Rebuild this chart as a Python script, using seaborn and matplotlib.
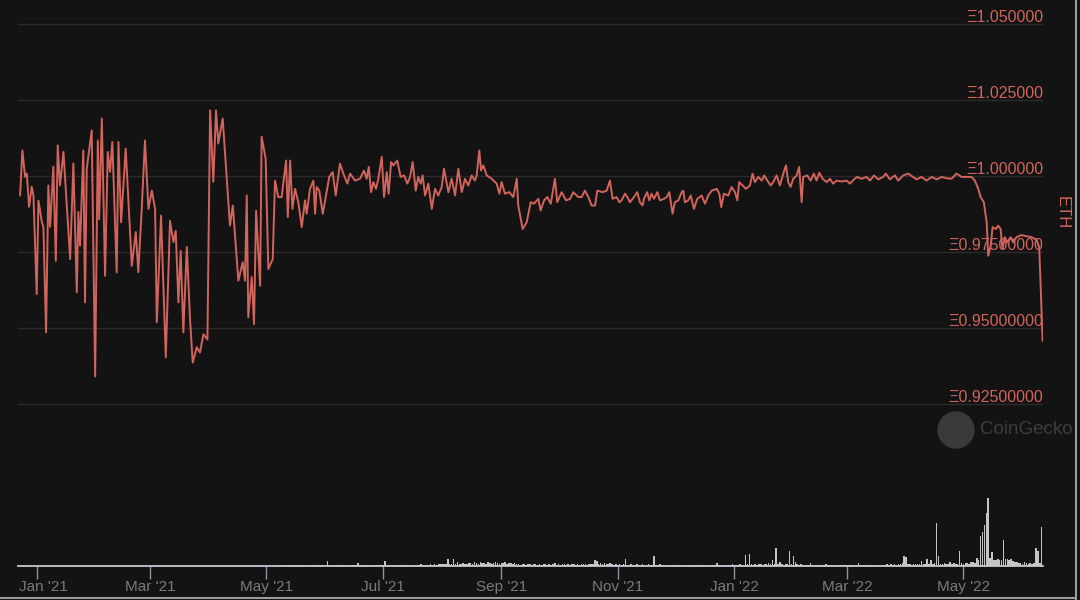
import matplotlib
matplotlib.use('Agg')
import matplotlib.pyplot as plt
from matplotlib.patches import Circle
from matplotlib.lines import Line2D
from matplotlib.transforms import IdentityTransform, ScaledTranslation
import pandas as pd
import seaborn as sns

# price trace (days since 2021-01-01, price in ETH)
day = [
    -9.0, -7.8, -6.4, -5.5, -4.3, -2.9, -2.0, -0.3, 0.6, 2.4,
    3.2, 4.6, 5.8, 6.7, 8.4, 9.7, 10.7, 11.9, 13.7, 17.2,
    18.9, 20.7, 21.5, 22.4, 24.1, 25.0, 25.9, 28.5, 30.3, 31.7,
    32.4, 33.8, 35.5, 36.9, 38.1, 39.3, 41.6, 42.5, 43.9, 46.3,
    49.5, 51.6, 52.9, 54.7, 56.4, 58.2, 60.0, 61.7, 62.6, 64.8,
    67.3, 69.5, 71.3, 72.5, 73.9, 75.1, 76.5, 78.3, 80.0, 81.4,
    83.5, 85.2, 87.0, 89.1, 90.5, 92.2, 93.6, 94.8, 97.1, 100.9,
    102.4, 105.3, 107.6, 108.8, 109.7, 110.5, 112.3, 113.5, 114.6, 116.7,
    117.5, 119.6, 121.0, 123.3, 124.5, 126.2, 128.0, 128.9, 130.3, 131.2,
    132.4, 133.6, 135.0, 136.7, 138.5, 140.2, 141.1, 142.8, 144.6, 145.5,
    146.3, 147.7, 149.5, 151.2, 152.9, 154.7, 156.3, 158.5, 160.3, 162.4,
    163.8, 166.4, 169.0, 171.1, 172.5, 173.6, 174.8, 176.0, 177.4, 178.6,
    180.4, 181.6, 183.0, 184.0, 185.3, 186.5, 188.5, 190.3, 192.1, 193.8,
    195.2, 196.6, 198.2, 199.5, 200.8, 201.8, 203.1, 204.8, 206.6, 208.3,
    210.0, 211.8, 213.0, 215.3, 217.0, 218.8, 220.5, 222.3, 224.0, 225.7,
    227.5, 229.2, 230.1, 231.5, 232.4, 233.6, 235.4, 238.0, 240.6, 242.0,
    243.2, 244.9, 247.2, 249.3, 251.1, 251.9, 254.2, 256.3, 258.4, 260.1,
    262.4, 263.6, 265.4, 267.1, 268.9, 271.1, 272.3, 274.6, 276.9, 279.0,
    280.7, 283.3, 285.1, 286.8, 288.6, 290.3, 292.1, 293.3, 296.1, 298.2,
    299.9, 301.3, 303.4, 304.8, 306.0, 307.8, 309.0, 310.4, 312.5, 314.2,
    315.6, 317.0, 317.7, 319.4, 320.5, 321.7, 323.0, 324.7, 326.1, 328.2,
    329.6, 331.0, 332.7, 333.9, 335.7, 337.5, 338.3, 339.2, 340.9, 342.2,
    343.9, 345.6, 347.9, 349.7, 351.4, 353.2, 355.8, 357.2, 358.2, 359.6,
    361.9, 363.6, 365.4, 366.6, 367.6, 369.4, 371.1, 373.2, 374.6, 375.8,
    377.6, 379.4, 380.7, 382.3, 384.1, 385.4, 387.2, 388.9, 390.7, 392.1,
    393.3, 394.5, 395.9, 397.7, 399.0, 400.3, 401.1, 403.2, 405.0, 406.7,
    408.1, 409.5, 411.3, 413.4, 415.1, 416.8, 418.6, 421.2, 423.9, 425.6,
    427.7, 429.4, 431.7, 434.3, 436.1, 438.2, 440.4, 443.0, 444.4, 446.5,
    449.1, 450.9, 453.5, 456.1, 458.7, 460.5, 463.1, 465.7, 468.4, 471.0,
    473.6, 476.2, 478.8, 481.4, 484.1, 486.7, 489.3, 491.0, 492.8, 494.0,
    495.7, 497.2, 498.0, 499.3, 500.3, 502.0, 503.2, 504.5, 505.5, 506.7,
    507.9, 509.7, 511.1, 512.8, 515.5, 518.1, 520.7, 523.3, 524.7, 525.4,
    526.5,
]
price = [
    0.9936, 1.0084, 0.9998, 1.0008, 0.9899, 0.9965, 0.9935, 0.9612, 0.9919, 0.9849,
    0.9833, 0.9486, 0.9969, 0.9833, 1.0031, 0.9721, 1.0101, 0.9969, 1.0080, 0.9727,
    1.0041, 0.9618, 0.9882, 0.9771, 1.0084, 0.9585, 1.0024, 1.0150, 0.9341, 1.0117,
    0.9858, 1.0189, 0.9672, 1.0079, 1.0014, 1.0112, 0.9683, 1.0112, 0.9848, 1.0090,
    0.9705, 0.9816, 0.9684, 0.9892, 1.0117, 0.9892, 0.9952, 0.9892, 0.9519, 0.9870,
    0.9404, 0.9853, 0.9783, 0.9820, 0.9585, 0.9754, 0.9486, 0.9767, 0.9529, 0.9387,
    0.9437, 0.9420, 0.9480, 0.9463, 1.0216, 0.9981, 1.0216, 1.0107, 1.0189, 0.9837,
    0.9903, 0.9656, 0.9717, 0.9656, 0.9936, 0.9535, 0.9668, 0.9513, 0.9886, 0.9639,
    1.0129, 1.0057, 0.9694, 0.9727, 0.9985, 0.9931, 0.9931, 0.9980, 1.0051, 0.9865,
    1.0051, 0.9892, 0.9958, 0.9914, 0.9832, 0.9920, 0.9876, 0.9958, 0.9985, 0.9876,
    0.9964, 0.9952, 0.9876, 0.9936, 0.9997, 1.0013, 0.9936, 1.0041, 1.0008, 0.9975,
    1.0008, 0.9985, 0.9991, 1.0018, 0.9991, 1.0030, 0.9947, 0.9980, 0.9958, 0.9991,
    1.0063, 0.9931, 1.0013, 0.9942, 1.0046, 1.0035, 1.0051, 0.9997, 1.0002, 0.9975,
    0.9997, 1.0046, 0.9952, 0.9997, 0.9975, 1.0002, 0.9936, 0.9975, 0.9892, 0.9958,
    0.9936, 0.9964, 1.0024, 0.9947, 0.9991, 0.9936, 1.0024, 0.9947, 0.9991, 0.9969,
    1.0002, 0.9985, 1.0002, 1.0084, 1.0018, 1.0035, 1.0002, 0.9991, 0.9975, 0.9942,
    0.9980, 0.9942, 0.9947, 0.9931, 0.9991, 0.9903, 0.9826, 0.9848, 0.9914, 0.9909,
    0.9925, 0.9887, 0.9920, 0.9931, 0.9909, 0.9991, 0.9914, 0.9947, 0.9920, 0.9925,
    0.9947, 0.9931, 0.9931, 0.9952, 0.9931, 0.9903, 0.9903, 0.9952, 0.9947, 0.9952,
    0.9985, 0.9925, 0.9931, 0.9914, 0.9920, 0.9942, 0.9931, 0.9914, 0.9931, 0.9947,
    0.9914, 0.9903, 0.9925, 0.9947, 0.9920, 0.9942, 0.9925, 0.9947, 0.9920, 0.9925,
    0.9931, 0.9947, 0.9876, 0.9914, 0.9920, 0.9947, 0.9952, 0.9914, 0.9920, 0.9936,
    0.9892, 0.9925, 0.9936, 0.9909, 0.9936, 0.9952, 0.9958, 0.9942, 0.9898, 0.9942,
    0.9936, 0.9964, 0.9947, 0.9920, 0.9980, 0.9969, 0.9958, 0.9969, 1.0008, 0.9980,
    0.9997, 0.9985, 1.0002, 0.9985, 0.9969, 0.9980, 1.0002, 0.9969, 1.0008, 1.0035,
    0.9980, 0.9964, 0.9991, 1.0002, 1.0030, 0.9914, 0.9997, 1.0002, 0.9985, 1.0008,
    0.9985, 1.0011, 0.9991, 0.9980, 0.9991, 0.9975, 0.9985, 0.9982, 0.9985, 0.9975,
    0.9989, 0.9997, 0.9991, 0.9997, 0.9985, 1.0002, 0.9989, 0.9997, 1.0008, 0.9989,
    1.0002, 0.9985, 1.0002, 1.0008, 0.9997, 0.9989, 0.9997, 0.9985, 0.9997, 0.9989,
    0.9997, 0.9993, 0.9991, 1.0008, 0.9997, 0.9997, 0.9997, 0.9985, 0.9958, 0.9931,
    0.9914, 0.9848, 0.9738, 0.9771, 0.9832, 0.9826, 0.9837, 0.9826, 0.9760, 0.9799,
    0.9782, 0.9799, 0.9782, 0.9799, 0.9806, 0.9802, 0.9799, 0.9791, 0.9766, 0.9650,
    0.9458,
]

# daily volume (relative units) from 2021-05-08 onwards
vol_start = '2021-05-08'
volume = [
    1, 1, 0.8, 1.2, 1, 1, 1.5, 1, 0.8, 1, 1.2, 1, 1, 1.5, 1, 1, 1.2, 1, 1, 1.5,
    1, 1.2, 1, 1, 1.5, 5.5, 1.2, 1, 1, 1.5, 1, 1.2, 1, 1, 1.5, 1, 1, 1.2, 1, 1.5,
    1.5, 3, 1.2, 1, 1.5, 1, 1.2, 1.5, 1, 1, 1.2, 1.5, 1, 1.2, 1.5, 5, 1.5, 1, 1.2, 1.5,
    1, 1.5, 1, 1.2, 1, 1.5, 1, 1.2, 1, 1, 1.5, 1.2, 1, 1.5, 2, 1.2, 1.5, 1, 1.5, 2,
    1.5, 2, 1.5, 2.5, 2, 2, 2.5, 2, 7, 2, 2, 7.5, 2, 4.5, 2.5, 2, 3, 2, 2.5, 3,
    3.5, 2.5, 4, 3, 2.5, 4, 3, 3.5, 2.5, 4, 3, 2.5, 3.5, 4, 3, 2.5, 3.5, 3, 4, 2.5,
    3.5, 3, 2.5, 3.5, 2, 2, 1.5, 2, 2.5, 1.5, 2, 2, 1.5, 2, 2.5, 1.5, 2, 1.5, 2, 2.5,
    1.5, 2, 1.5, 2, 3, 1.5, 2, 1.5, 2, 2.5, 1.5, 2, 1.5, 2, 2.5, 1.5, 2, 1.5, 2, 2,
    2.5, 1.5, 2, 2.5, 2, 6, 5, 2, 3, 2.5, 3, 2, 2.5, 3, 2, 1.5, 2, 1.5, 2, 1.5,
    2, 7, 1.5, 1.5, 2, 1.5, 1.5, 2, 1.5, 1.5, 2, 1.5, 1.5, 2, 1.5, 1.5, 10, 1.5, 1.5, 2,
    1.5, 1, 1.5, 1, 1, 1.5, 1, 1, 1.5, 1, 1, 1.5, 1, 1, 1.5, 1, 1, 1.5, 1, 1,
    1.5, 1, 1, 1.5, 1, 1, 1.5, 1, 1, 3, 1, 1.5, 1, 1, 1.5, 1, 1.5, 2, 1, 1.5,
    1.5, 2, 1, 1.5, 11, 2, 12, 2, 1.5, 2, 1.5, 2, 2, 1.5, 2, 2, 3, 2, 6, 2,
    18, 2, 4, 2, 1.5, 2, 2, 15, 2, 10, 4, 2, 1.5, 2, 1.5, 1.5, 1, 1.5, 3, 1.5,
    1, 1.5, 1, 1.5, 1, 1.5, 2, 1, 1.5, 1, 1.5, 1, 1, 1.5, 1, 1.5, 1, 1, 1.5, 1,
    1.5, 1, 1, 3, 1, 1.5, 1, 1.5, 1, 1, 1.5, 1, 1.5, 1, 1.5, 1, 1, 1.5, 2, 1.5,
    2, 1.5, 2, 1.5, 2, 2.5, 3, 10, 9, 2, 2, 1.5, 2, 2.5, 2, 2, 5.5, 2, 2.5, 7,
    2.5, 6, 2.5, 3, 43, 10, 2.5, 2.5, 3, 2, 2.5, 4, 2.5, 3, 2, 2.5, 15.5, 3, 2.5, 3,
    3, 2.5, 4, 4, 3.5, 8, 6, 30, 34, 41, 53, 68, 8, 14, 6, 6, 7, 6, 6, 26,
    7, 7, 6, 7, 5, 4, 4, 3, 3, 2.5, 4, 3, 2.5, 3, 2.5, 3, 18, 15, 3, 39,
]

ytick_vals = [0.925, 0.95, 0.975, 1.0, 1.025, 1.05]
ytick_labels = ['Ξ0.92500000', 'Ξ0.95000000', 'Ξ0.97500000',
                'Ξ1.000000', 'Ξ1.025000', 'Ξ1.050000']
month_ticks = ['2021-01-01', '2021-03-01', '2021-05-01', '2021-07-01', '2021-09-01',
               '2021-11-01', '2022-01-01', '2022-03-01', '2022-05-01']
month_labels = ["Jan '21", "Mar '21", "May '21", "Jul '21", "Sep '21",
                "Nov '21", "Jan '22", "Mar '22", "May '22"]

BG = '#131313'
RED = '#d1645c'

sns.set_theme(style='dark', rc={'axes.facecolor': BG, 'figure.facecolor': BG,
                                'savefig.facecolor': BG})
plt.rcParams['font.family'] = ['Liberation Sans', 'DejaVu Sans']

t0 = pd.Timestamp('2021-01-01')
df = pd.DataFrame({'date': t0 + pd.to_timedelta(day, unit='D'), 'price': price})
vol = pd.DataFrame({'date': pd.date_range(vol_start, periods=len(volume), freq='D'),
                    'volume': volume})

fig = plt.figure(figsize=(10.8, 6.0), dpi=100)
ax = fig.add_axes([18 / 1080, 34 / 600, 1025 / 1080, 546 / 600])

sns.lineplot(data=df, x='date', y='price', ax=ax, color=RED, linewidth=1.4)
ax.set_xlabel('')
ax.set_ylabel('')
ax.set_ylim(0.8718, 1.0513)
ax.set_xlim(t0 + pd.Timedelta(days=-10.1), t0 + pd.Timedelta(days=526.7))

# volume bars on a hidden twin axis
ax2 = ax.twinx()
ax2.bar(vol['date'], vol['volume'], width=0.8, color='#c4c4c4', linewidth=0)
ax2.set_ylim(0, 546)
ax2.set_yticks([])
ax2.tick_params(right=False, labelright=False)
for s in ax2.spines.values():
    s.set_visible(False)
ax.set_zorder(2)
ax.patch.set_visible(False)

# horizontal grid + labels sitting on the grid lines
ax.set_yticks(ytick_vals)
ax.yaxis.grid(True, color='#2a2a2a', linewidth=1)
ax.xaxis.grid(False)
ax.tick_params(axis='y', left=False, labelleft=False)
for v, s in zip(ytick_vals, ytick_labels):
    ax.annotate(s, xy=(1.0, v), xycoords=('axes fraction', 'data'),
                xytext=(0, 1.5), textcoords='offset points',
                ha='right', va='baseline', color=RED, fontsize=11.5)

ax.set_xticks(pd.to_datetime(month_ticks))
ax.set_xticklabels(month_labels)
ax.tick_params(axis='x', bottom=True, direction='out', length=9, width=1,
               color='#8c96a0', labelcolor='#7a7a7a', labelsize=11, pad=1)
# first label is nudged right so it stays inside the plot, like the original
first = ax.get_xticklabels()[0]
first.set_transform(first.get_transform() + ScaledTranslation(6 / 100, 0, fig.dpi_scale_trans))
for k in ['top', 'left', 'right']:
    ax.spines[k].set_visible(False)
ax.spines['bottom'].set_color('#c3cad2')
ax.spines['bottom'].set_linewidth(1.3)

fig.text(1062 / 1080, 1 - 213 / 600, 'ETH', rotation=-90, color=RED,
         fontsize=12, ha='center', va='center')

# watermark
fig.add_artist(Circle((956, 600 - 430), 18, transform=IdentityTransform(),
                      color='#3a3a3a', zorder=0))
fig.text(980 / 1080, 1 - 429 / 600, 'CoinGecko', color='#3e3e3e', fontsize=13.5,
         ha='left', va='center')

# screenshot frame edges
fig.add_artist(Line2D([1076, 1076], [0, 600], transform=IdentityTransform(),
                      color='#9a9a9a', linewidth=1.5))
fig.add_artist(Line2D([0, 1076], [2, 2], transform=IdentityTransform(),
                      color='#9a9a9a', linewidth=1.5))

fig.savefig('out.png', dpi=100)
